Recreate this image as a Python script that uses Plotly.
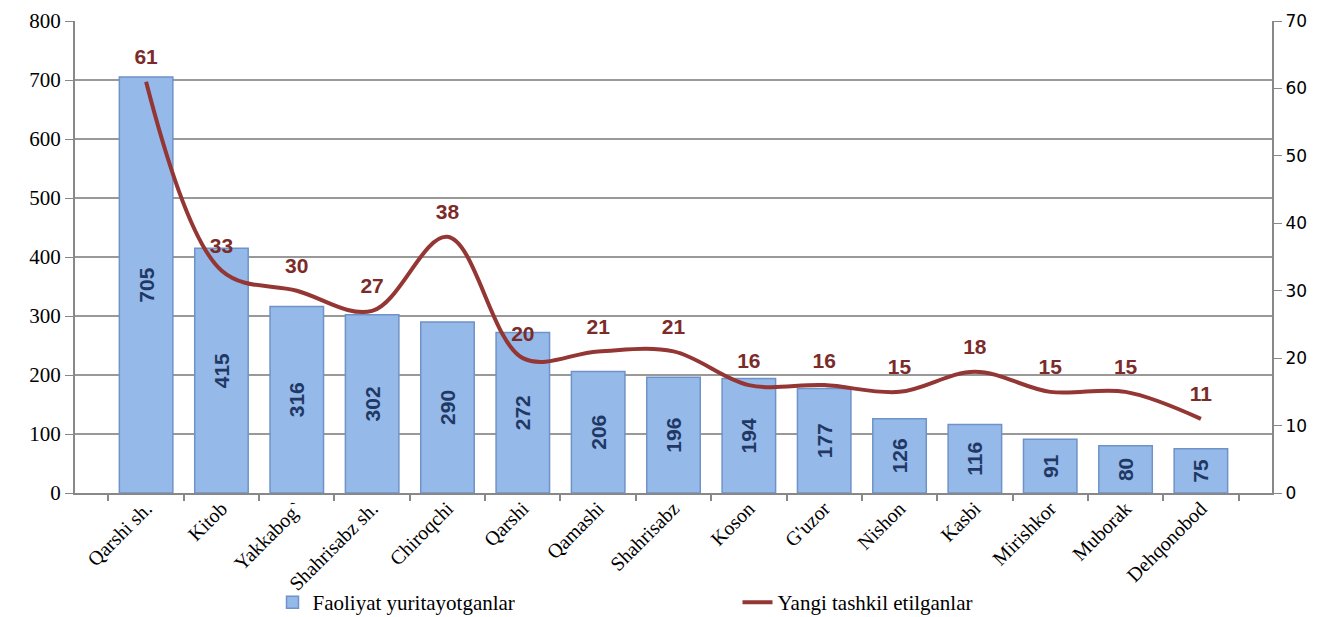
import plotly.graph_objects as go

districts = ["Qarshi sh.", "Kitob", "Yakkabog`", "Shahrisabz sh.", "Chiroqchi", "Qarshi",
             "Qamashi", "Shahrisabz", "Koson", "G'uzor", "Nishon", "Kasbi",
             "Mirishkor", "Muborak", "Dehqonobod"]
active = [705, 415, 316, 302, 290, 272, 206, 196, 194, 177, 126, 116, 91, 80, 75]
new_ones = [61, 33, 30, 27, 38, 20, 21, 21, 16, 16, 15, 18, 15, 15, 11]

serif = "Liberation Serif"

fig = go.Figure()
fig.add_trace(go.Bar(
    x=districts, y=active, name="Faoliyat yuritayotganlar",
    marker=dict(color="#95B9E9", line=dict(color="#6F93C8", width=1.5)),
    text=active, textposition="inside", insidetextanchor="middle", textangle=-90,
    textfont=dict(family="Liberation Sans Narrow, Arial Narrow, Arial", size=21,
                  color="#1F3864", weight="bold"),
))
fig.add_trace(go.Scatter(
    x=districts, y=new_ones, name="Yangi tashkil etilganlar", yaxis="y2",
    mode="lines+markers+text", line=dict(color="#943634", width=4, shape="spline"),
    marker=dict(size=18, color="rgba(0,0,0,0)"),
    text=new_ones, textposition="top center",
    textfont=dict(family="Arial", size=21, color="#7B2C2A", weight="bold"),
))

# the page adds an 8px body margin, so the figure is 8px smaller than the window
fig.update_layout(
    width=1320, height=609,
    margin=dict(l=67, r=56, t=13, b=124, autoexpand=False),
    plot_bgcolor="white", paper_bgcolor="white",
    bargap=0.29,
    showlegend=True,
    legend=dict(orientation="h", x=0.165, y=-0.232, yanchor="middle", xanchor="left",
                bgcolor="rgba(0,0,0,0)",
                font=dict(family=serif, size=21, color="black"),
                entrywidth=420, entrywidthmode="pixels"),
    xaxis=dict(tickangle=-45, tickfont=dict(family=serif, size=20, color="black"),
               ticklabelstandoff=-6,
               showline=True, linecolor="#888888", linewidth=2, ticks="outside", tickson="boundaries",
               ticklen=6, tickcolor="#888888", tickwidth=2, automargin=False),
    yaxis=dict(range=[0, 800], dtick=100, showgrid=True, gridcolor="#999999", gridwidth=1.5,
               showline=True, linecolor="#888888", linewidth=2, ticks="outside", ticklen=8,
               tickcolor="#888888", zeroline=False, automargin=False,
               tickfont=dict(family=serif, size=21, color="black")),
    yaxis2=dict(range=[0, 70], dtick=10, overlaying="y", side="right", showgrid=False,
                showline=True, linecolor="#888888", linewidth=2, ticks="outside", ticklen=8,
                tickcolor="#888888", zeroline=False, automargin=False,
                tickfont=dict(family="DejaVu Sans, Verdana", size=17, color="black")),
)

fig.write_html("out.html")
